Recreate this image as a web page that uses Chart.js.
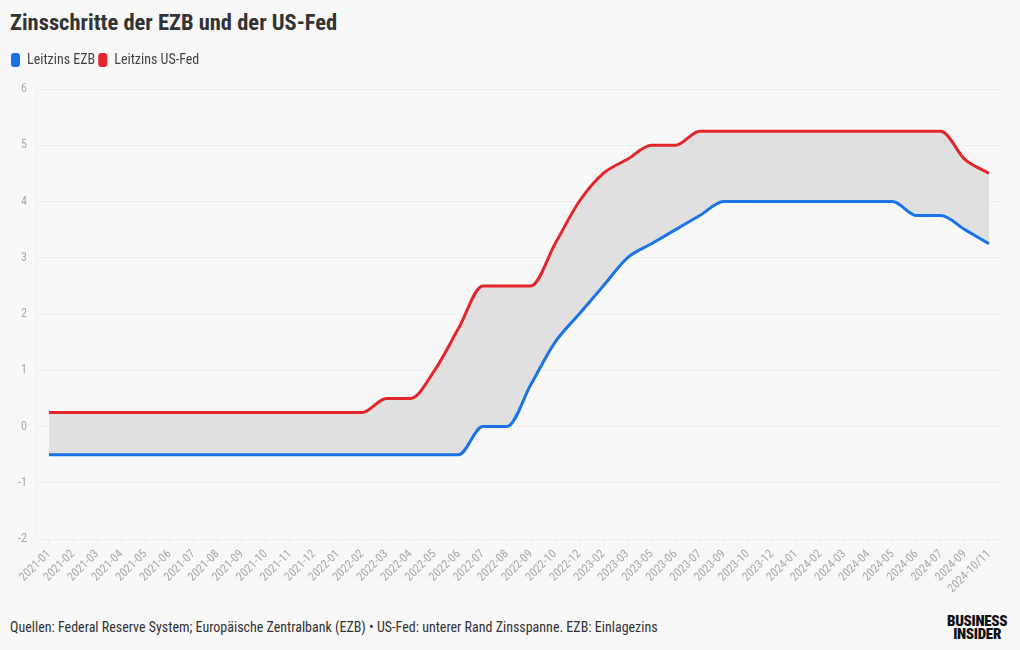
<!DOCTYPE html>
<html>
<head>
<meta charset="utf-8">
<script src="https://cdn.jsdelivr.net/npm/chart.js@4/dist/chart.umd.min.js"></script>
<style>
  html, body { margin: 0; padding: 0; background: #f8f8f8; }
  body { width: 1020px; height: 650px; position: relative; overflow: hidden; font-family: 'Roboto Condensed', 'Roboto', sans-serif; }
  #title { position: absolute; left: 10px; top: 9px; font-size: 22.5px; font-weight: 700; color: #333; white-space: nowrap; }
  #wrap { position: absolute; left: 0; top: 50px; width: 1020px; height: 548px; }
  #foot { position: absolute; left: 10px; top: 619px; font-size: 14px; color: #333; white-space: nowrap; }
  #logo { position: absolute; left: 947px; top: 615px; font-size: 15px; font-weight: 900; color: #111; line-height: 12.5px; text-align: center; letter-spacing: -0.3px; }
</style>
</head>
<body>
<div id="title">Zinsschritte der EZB und der US-Fed</div>
<div id="wrap"><canvas id="c"></canvas></div>
<div id="foot">Quellen: Federal Reserve System; Europäische Zentralbank (EZB) • US-Fed: unterer Rand Zinsspanne. EZB: Einlagezins</div>
<div id="logo">BUSINESS<br>INSIDER</div>
<script>
const categories = ["2021-01","2021-02","2021-03","2021-04","2021-05","2021-06","2021-07","2021-08","2021-09","2021-10","2021-11","2021-12",
  "2022-01","2022-02","2022-03","2022-04","2022-05","2022-06","2022-07","2022-08","2022-09","2022-10","2022-12",
  "2023-02","2023-03","2023-05","2023-06","2023-07","2023-09","2023-10","2023-12",
  "2024-01","2024-02","2024-03","2024-04","2024-05","2024-06","2024-07","2024-09","2024-10/11"];
const ezb = [-0.5,-0.5,-0.5,-0.5,-0.5,-0.5,-0.5,-0.5,-0.5,-0.5,-0.5,-0.5,
  -0.5,-0.5,-0.5,-0.5,-0.5,-0.5,0,0,0.75,1.5,2.0,
  2.5,3.0,3.25,3.5,3.75,4.0,4.0,4.0,
  4.0,4.0,4.0,4.0,4.0,3.75,3.75,3.5,3.25];
const fed = [0.25,0.25,0.25,0.25,0.25,0.25,0.25,0.25,0.25,0.25,0.25,0.25,
  0.25,0.25,0.5,0.5,1.0,1.75,2.5,2.5,2.5,3.25,4.0,
  4.5,4.75,5.0,5.0,5.25,5.25,5.25,5.25,
  5.25,5.25,5.25,5.25,5.25,5.25,5.25,4.75,4.5];
const yTicks = [-2,-1,0,1,2,3,4,5,6];
const seriesNames = ["Leitzins EZB","Leitzins US-Fed"];
const seriesColors = ["#1a73e8","#e3262b"];

const tickFont = { family: "'Roboto Condensed', Roboto, sans-serif", size: 12 };
const legendMargin = {
  id: 'legendMargin',
  beforeInit(chart) {
    const fit = chart.legend.fit;
    chart.legend.fit = function () { fit.call(this); this.height += 12; };
  }
};
new Chart(document.getElementById('c'), {
  type: 'line',
  plugins: [legendMargin],
  data: {
    labels: categories,
    datasets: [
      { label: seriesNames[0], data: ezb, borderColor: seriesColors[0], backgroundColor: seriesColors[0], borderWidth: 3, pointRadius: 0, cubicInterpolationMode: 'monotone', fill: false },
      { label: seriesNames[1], data: fed, borderColor: seriesColors[1], backgroundColor: '#e0e0e0', borderWidth: 3, pointRadius: 0, cubicInterpolationMode: 'monotone', fill: { target: 0 } }
    ]
  },
  options: {
    responsive: true, maintainAspectRatio: false, animation: false,
    layout: { padding: { left: 8, right: 19, top: 0, bottom: 0 } },
    plugins: {
      filler: { drawTime: 'beforeDatasetsDraw' },
      tooltip: { enabled: false },
      legend: {
        align: 'start',
        labels: {
          boxWidth: 9, boxHeight: 14, useBorderRadius: true, borderRadius: 3,
          color: '#444', font: { family: "'Roboto Condensed', Roboto, sans-serif", size: 14 }, padding: 3,
          generateLabels(chart) {
            return chart.data.datasets.map((d, i) => ({ text: d.label, fillStyle: seriesColors[i], strokeStyle: seriesColors[i], lineWidth: 0, datasetIndex: i, borderRadius: 3, fontColor: '#444' }));
          }
        }
      }
    },
    scales: {
      x: {
        offset: true,
        grid: { display: true, drawOnChartArea: false, color: '#ececec', tickLength: 6 },
        border: { display: false },
        ticks: { color: '#aaa', font: tickFont, minRotation: 45, maxRotation: 45, autoSkip: false, padding: 2 }
      },
      y: {
        min: -2, max: 6,
        afterBuildTicks(axis) { axis.ticks = yTicks.map(v => ({ value: v })); },
        grid: { color: '#eeeeee', drawTicks: false },
        border: { display: true, color: '#eeeeee' },
        ticks: { color: '#aaa', font: tickFont, padding: 10 }
      }
    }
  }
});
</script>
</body>
</html>
